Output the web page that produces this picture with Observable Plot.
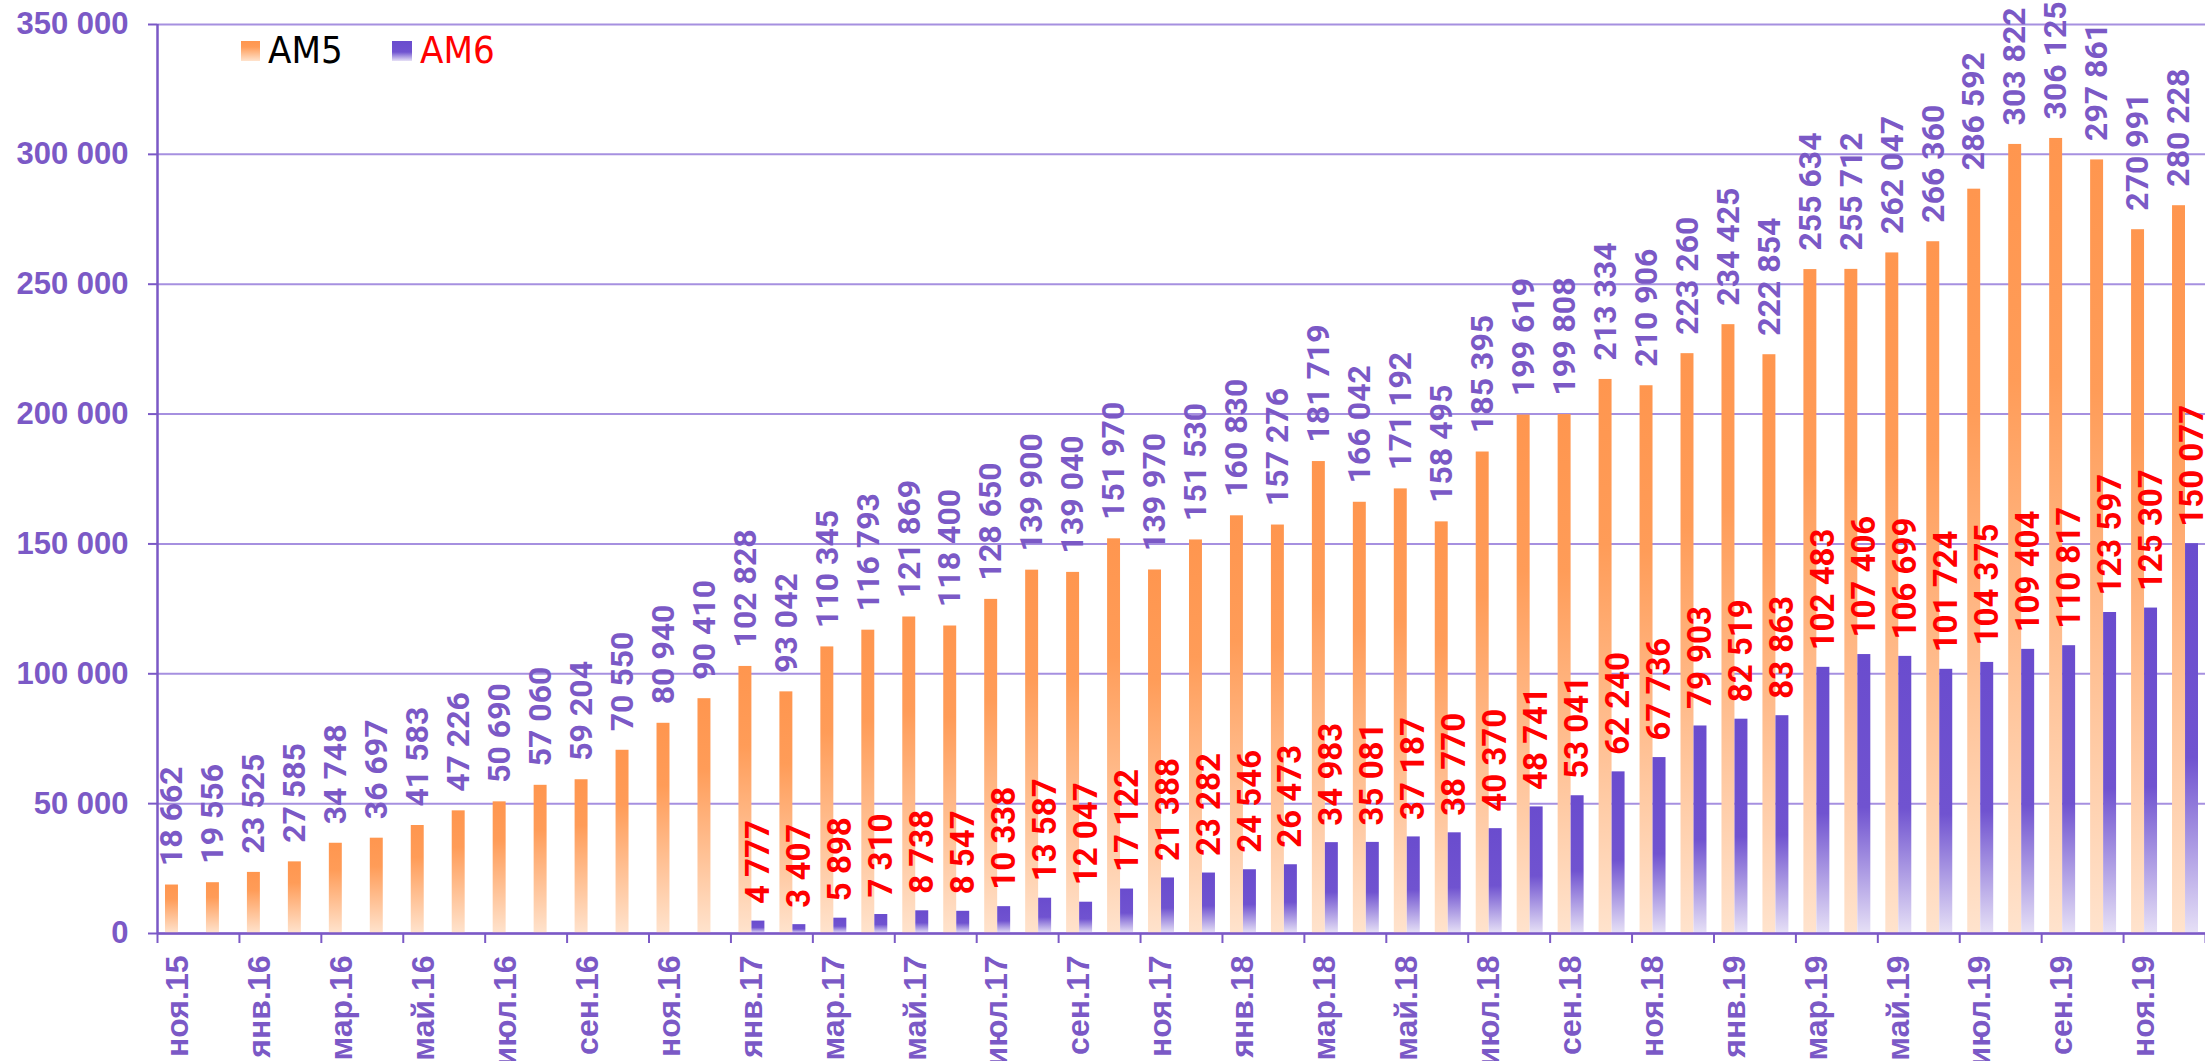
<!DOCTYPE html>
<html>
<head>
<meta charset="utf-8">
<script src="https://cdn.jsdelivr.net/npm/d3@7"></script>
<script src="https://cdn.jsdelivr.net/npm/@observablehq/plot@0.6"></script>
<style>
  html, body { margin: 0; padding: 0; background: #fff; overflow: hidden; }
  #wrap { position: relative; width: 2205px; height: 1061px; overflow: hidden; }
  #wrap > svg { display: block; }
  #legend { position: absolute; left: 0; top: 0; }
</style>
</head>
<body>
<svg width="0" height="0" style="position:absolute">
  <defs>
    <linearGradient id="gAM5" x1="0" y1="0" x2="0" y2="1">
      <stop offset="0" stop-color="#ff964f"/>
      <stop offset="0.3" stop-color="#ff9c58"/>
      <stop offset="1" stop-color="#ffe3cd"/>
    </linearGradient>
    <linearGradient id="gAM6" x1="0" y1="0" x2="0" y2="1">
      <stop offset="0" stop-color="#6a4cce"/>
      <stop offset="0.55" stop-color="#7053d0"/>
      <stop offset="1" stop-color="#e6e0f6"/>
    </linearGradient>
  </defs>
</svg>
<div id="wrap">
  <svg id="legend" width="600" height="100">
    <rect x="241" y="41" width="19" height="20" fill="url(#gAM5)"></rect>
    <text x="268" y="63" font-family="DejaVu Sans Condensed, DejaVu Sans" font-size="38" fill="#000">AM5</text>
    <rect x="392" y="41" width="20" height="20" fill="url(#gAM6)"></rect>
    <text x="420" y="63" font-family="DejaVu Sans Condensed, DejaVu Sans" font-size="38" fill="#ff0000">AM6</text>
  </svg>
</div>
<script>
// ---- data ----
const months = [
  "ноя.15","дек.15",
  "янв.16","фев.16","мар.16","апр.16","май.16","июн.16","июл.16","авг.16","сен.16","окт.16","ноя.16","дек.16",
  "янв.17","фев.17","мар.17","апр.17","май.17","июн.17","июл.17","авг.17","сен.17","окт.17","ноя.17","дек.17",
  "янв.18","фев.18","мар.18","апр.18","май.18","июн.18","июл.18","авг.18","сен.18","окт.18","ноя.18","дек.18",
  "янв.19","фев.19","мар.19","апр.19","май.19","июн.19","июл.19","авг.19","сен.19","окт.19","ноя.19","дек.19"
];
const am5 = [
  18662, 19556,
  23525, 27585, 34748, 36697, 41583, 47226, 50690, 57060, 59204, 70550, 80940, 90410,
  102828, 93042, 110345, 116793, 121869, 118400, 128650, 139900, 139040, 151970, 139970, 151530,
  160830, 157276, 181719, 166042, 171192, 158495, 185395, 199619, 199808, 213334, 210906, 223260,
  234425, 222854, 255634, 255712, 262047, 266360, 286592, 303822, 306125, 297861, 270991, 280228
];
const am6Start = "янв.17";
const am6 = [
  4777, 3407, 5898, 7310, 8738, 8547, 10338, 13587, 12047, 17122, 21388, 23282,
  24546, 26473, 34983, 35081, 37187, 38770, 40370, 48741, 53041, 62240, 67736, 79903,
  82519, 83863, 102483, 107406, 106699, 101724, 104375, 109404, 110817, 123597, 125307, 150077
];
const xTickLabels = [
  "ноя.15","янв.16","мар.16","май.16","июл.16","сен.16","ноя.16",
  "янв.17","мар.17","май.17","июл.17","сен.17","ноя.17",
  "янв.18","мар.18","май.18","июл.18","сен.18","ноя.18",
  "янв.19","мар.19","май.19","июл.19","сен.19","ноя.19"
];
const yTicks = [0, 50000, 100000, 150000, 200000, 250000, 300000, 350000];

// ---- tables ----
const am5Rows = months.map((m, i) => ({month: m, value: am5[i]}));
const i6 = months.indexOf(am6Start);
const am6Rows = am6.map((v, i) => ({month: months[i6 + i], value: v}));

const fmt = d3.formatLocale({decimal: ",", thousands: "\u00a0", grouping: [3], currency: ["", ""]}).format(",d");

const purple = "#7b59c6";
const gridColor = "#a690e0";
const W = 2205, H = 1061, ML = 157, MR = 0, MT = 24, MB = 128;
const bw = (W - ML - MR) / months.length;

const chart = Plot.plot({
  width: W, height: H,
  marginLeft: ML, marginRight: MR, marginTop: MT, marginBottom: MB,
  x: {type: "band", domain: months, padding: 0, label: null},
  y: {domain: [0, 350000], label: null},
  style: {fontFamily: "'Liberation Sans', Arial, sans-serif", color: purple, background: "white", overflow: "hidden"},
  marks: [
    Plot.gridY(yTicks, {stroke: gridColor, strokeOpacity: 1, strokeWidth: 2}),
    Plot.barY(am5Rows, {x: "month", y: "value", fill: "url(#gAM5)", insetLeft: 8, insetRight: 20}),
    Plot.barY(am6Rows, {x: "month", y: "value", fill: "url(#gAM6)", insetLeft: 21, insetRight: 7}),
    Plot.ruleY([0], {stroke: purple, strokeWidth: 2.5}),
    Plot.ruleX([months[0]], {dx: -bw / 2, stroke: purple, strokeWidth: 2.5}),
    Plot.axisY(yTicks, {anchor: "left", label: null, tickSize: 9, tickPadding: 20, tickFormat: fmt, fontSize: 31, fontWeight: "bold", strokeWidth: 2}),
    Plot.axisX(xTickLabels, {anchor: "bottom", label: null, tickSize: 0, tickPadding: 22, tickRotate: -90, fontSize: 32, fontWeight: "bold"}),
    Plot.axisX(xTickLabels, {anchor: "bottom", label: null, tickSize: 10, tickFormat: () => "", dx: -bw / 2, strokeWidth: 2}),
    Plot.axisX([months[months.length - 1]], {anchor: "bottom", label: null, tickSize: 10, tickFormat: () => "", dx: bw / 2, strokeWidth: 2}),
    Plot.text(am5Rows, {
      x: "month", y: "value", text: d => fmt(d.value),
      rotate: -90, textAnchor: "start", lineAnchor: "middle",
      dx: -6, dy: -19, fill: purple, fontSize: 32, fontWeight: "bold",
      fontFamily: "Roboto, 'Liberation Sans', sans-serif"
    }),
    Plot.text(am6Rows, {
      x: "month", y: "value", text: d => fmt(d.value),
      rotate: -90, textAnchor: "start", lineAnchor: "middle",
      dx: 7, dy: -17, fill: "#ff0000", fontSize: 33, fontWeight: "bold",
      fontFamily: "Roboto, 'Liberation Sans', sans-serif"
    })
  ]
});

const wrap = document.getElementById("wrap");
wrap.insertBefore(chart, wrap.firstChild);
</script>
</body>
</html>
